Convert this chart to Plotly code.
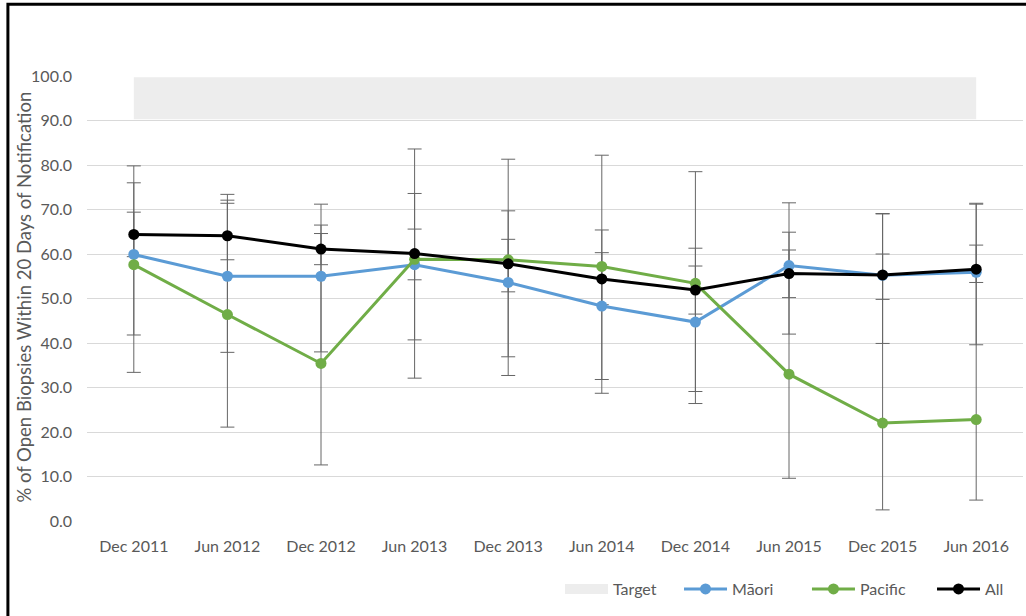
import plotly.graph_objects as go

# Periodos
periods = ["Dec 2011", "Jun 2012", "Dec 2012", "Jun 2013", "Dec 2013",
           "Jun 2014", "Dec 2014", "Jun 2015", "Dec 2015", "Jun 2016"]

# Porcentajes por grupo
maori = [59.9, 55.0, 55.0, 57.6, 53.6, 48.3, 44.7, 57.4, 55.2, 55.9]
pacific = [57.6, 46.4, 35.4, 58.8, 58.7, 57.2, 53.4, 33.0, 22.0, 22.8]
all_pts = [64.4, 64.1, 61.1, 60.1, 57.8, 54.4, 51.9, 55.6, 55.3, 56.6]

# Intervalos de confianza (limite superior / inferior)
maori_hi = [76.0, 71.4, 66.5, 73.6, 69.7, 65.4, 61.3, 71.5, 69.0, 71.2]
maori_lo = [41.8, 37.9, 38.0, 40.7, 36.9, 31.8, 29.1, 42.0, 39.9, 39.6]
pacific_hi = [79.8, 73.4, 71.2, 83.6, 81.3, 82.2, 78.5, 64.9, 69.1, 71.4]
pacific_lo = [33.4, 21.1, 12.6, 32.1, 32.7, 28.7, 26.4, 9.6, 2.5, 4.7]
all_hi = [69.4, 72.1, 64.6, 65.6, 63.3, 60.3, 57.3, 60.9, 60.0, 62.0]
all_lo = [59.4, 58.7, 57.6, 54.2, 51.5, 48.6, 46.5, 50.2, 49.8, 53.6]

# Banda objetivo (90-100)
target = [95.0] * len(periods)

grey_txt = "#595959"
font_name = "Lato"

fig = go.Figure()

fig.add_trace(go.Scatter(
    x=periods, y=target, mode="lines", name="Target", legend="legend",
    line=dict(color="#ededed", width=42),
))

# Barras de error primero para que queden debajo de las lineas
for vals, hi, lo in [(pacific, pacific_hi, pacific_lo),
                     (maori, maori_hi, maori_lo),
                     (all_pts, all_hi, all_lo)]:
    fig.add_trace(go.Scatter(
        x=periods, y=vals, mode="markers",
        marker=dict(size=1, color="rgba(0,0,0,0)"),
        error_y=dict(type="data", symmetric=False,
                     array=[h - v for h, v in zip(hi, vals)],
                     arrayminus=[v - l for v, l in zip(vals, lo)],
                     color="#666666", thickness=1, width=7),
        showlegend=False, hoverinfo="skip",
    ))

series = [("Māori", maori, "#5B9BD5", "legend2"),
          ("Pacific", pacific, "#70AD47", "legend3"),
          ("All", all_pts, "#000000", "legend4")]
for name, vals, col, leg in series:
    fig.add_trace(go.Scatter(
        x=periods, y=vals, mode="lines+markers", name=name, legend=leg,
        line=dict(color=col, width=3),
        marker=dict(color=col, size=11),
    ))

# Borde negro del grafico (arriba e izquierda)
fig.add_shape(type="rect", xref="paper", yref="paper",
              x0=-0.0845, x1=1.2, y0=-0.5, y1=1.161,
              line=dict(color="black", width=3), layer="above")

# Titulo del eje Y como anotacion para fijar su posicion
fig.add_annotation(
    text="% of Open Biopsies Within 20 Days of Notification",
    xref="paper", yref="paper", x=-0.0673, y=0.502,
    xanchor="center", yanchor="middle", textangle=-90, showarrow=False,
    font=dict(size=18.5, color=grey_txt, family=font_name),
)

# Una leyenda por serie para fijar cada posicion
def leg(xpos):
    return dict(orientation="h", xanchor="left", x=xpos, yanchor="middle", y=-0.153,
                font=dict(size=16, color=grey_txt), itemwidth=43,
                bgcolor="rgba(0,0,0,0)")

fig.update_layout(
    width=1026, height=616,
    margin=dict(l=87, r=3, t=76, b=95),
    paper_bgcolor="white", plot_bgcolor="white",
    font=dict(family=font_name, color=grey_txt, size=16),
    showlegend=True,
    legend=leg(0.5053), legend2=leg(0.6325), legend3=leg(0.7692), legend4=leg(0.9028),
    xaxis=dict(showgrid=False, showline=False, ticks="", automargin=False,
               range=[-0.5, len(periods) - 0.5], ticklabelstandoff=14,
               tickfont=dict(size=16, color=grey_txt)),
    yaxis=dict(range=[0, 100], dtick=10, tickformat=".1f", automargin=False,
               gridcolor="#d9d9d9", gridwidth=1, zeroline=False,
               showline=False, ticks="", ticklabelstandoff=14,
               tickfont=dict(size=16, color=grey_txt)),
)

fig.write_html("out.html", config={"displayModeBar": False},
               post_script="document.body.style.margin='0';")
